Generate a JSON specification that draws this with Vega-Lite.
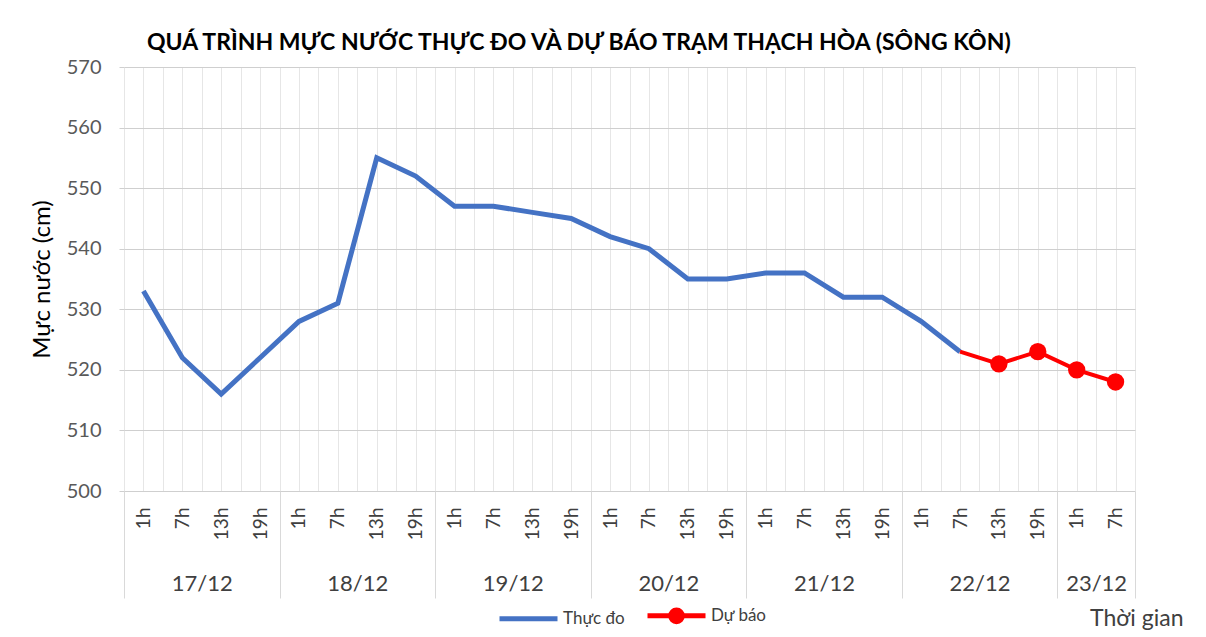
{
  "$schema": "https://vega.github.io/schema/vega-lite/v6.json",
  "width": 1011,
  "height": 424,
  "autosize": {"type": "none"},
  "padding": {"left": 124, "top": 67, "right": 71, "bottom": 146},
  "background": "white",
  "config": {"font": "Lato", "view": {"stroke": null}},
  "title": {
    "text": "QUÁ TRÌNH MỰC NƯỚC THỰC ĐO VÀ DỰ BÁO TRẠM THẠCH HÒA (SÔNG KÔN)",
    "font": "Lato",
    "fontSize": 23,
    "fontWeight": "bold",
    "color": "#000000",
    "anchor": "start",
    "frame": "group",
    "dx": 23,
    "dy": 33,
    "baseline": "alphabetic",
    "offset": 17
  },
  "data": {
    "values": [
      {"i": 0, "date": "17/12", "hour": "1h", "level": 533, "series": "Thực đo"},
      {"i": 1, "date": "17/12", "hour": "7h", "level": 522, "series": "Thực đo"},
      {"i": 2, "date": "17/12", "hour": "13h", "level": 516, "series": "Thực đo"},
      {"i": 3, "date": "17/12", "hour": "19h", "level": 522, "series": "Thực đo"},
      {"i": 4, "date": "18/12", "hour": "1h", "level": 528, "series": "Thực đo"},
      {"i": 5, "date": "18/12", "hour": "7h", "level": 531, "series": "Thực đo"},
      {"i": 6, "date": "18/12", "hour": "13h", "level": 555, "series": "Thực đo"},
      {"i": 7, "date": "18/12", "hour": "19h", "level": 552, "series": "Thực đo"},
      {"i": 8, "date": "19/12", "hour": "1h", "level": 547, "series": "Thực đo"},
      {"i": 9, "date": "19/12", "hour": "7h", "level": 547, "series": "Thực đo"},
      {"i": 10, "date": "19/12", "hour": "13h", "level": 546, "series": "Thực đo"},
      {"i": 11, "date": "19/12", "hour": "19h", "level": 545, "series": "Thực đo"},
      {"i": 12, "date": "20/12", "hour": "1h", "level": 542, "series": "Thực đo"},
      {"i": 13, "date": "20/12", "hour": "7h", "level": 540, "series": "Thực đo"},
      {"i": 14, "date": "20/12", "hour": "13h", "level": 535, "series": "Thực đo"},
      {"i": 15, "date": "20/12", "hour": "19h", "level": 535, "series": "Thực đo"},
      {"i": 16, "date": "21/12", "hour": "1h", "level": 536, "series": "Thực đo"},
      {"i": 17, "date": "21/12", "hour": "7h", "level": 536, "series": "Thực đo"},
      {"i": 18, "date": "21/12", "hour": "13h", "level": 532, "series": "Thực đo"},
      {"i": 19, "date": "21/12", "hour": "19h", "level": 532, "series": "Thực đo"},
      {"i": 20, "date": "22/12", "hour": "1h", "level": 528, "series": "Thực đo"},
      {"i": 21, "date": "22/12", "hour": "7h", "level": 523, "series": "Thực đo"},
      {"i": 21, "date": "22/12", "hour": "7h", "level": 523, "series": "Dự báo"},
      {"i": 22, "date": "22/12", "hour": "13h", "level": 521, "series": "Dự báo"},
      {"i": 23, "date": "22/12", "hour": "19h", "level": 523, "series": "Dự báo"},
      {"i": 24, "date": "23/12", "hour": "1h", "level": 520, "series": "Dự báo"},
      {"i": 25, "date": "23/12", "hour": "7h", "level": 518, "series": "Dự báo"}
    ]
  },
  "encoding": {
    "y": {
      "field": "level",
      "type": "quantitative",
      "title": "Mực nước (cm)",
      "scale": {"domain": [500, 570], "nice": false, "zero": false},
      "axis": {
        "values": [500, 510, 520, 530, 540, 550, 560, 570],
        "domain": false,
        "grid": true,
        "gridColor": "#cfcfcf",
        "ticks": true,
        "tickSize": 5,
        "tickColor": "#cfcfcf",
        "labelFontSize": 20,
        "labelColor": "#595959",
        "labelPadding": 18,
        "titleFontSize": 24,
        "titleFontWeight": "normal",
        "titleColor": "#000000",
        "titlePadding": 12
      }
    },
    "color": {
      "field": "series",
      "type": "nominal",
      "scale": {"domain": ["Thực đo", "Dự báo"], "range": ["#4472C4", "#FF0000"]},
      "legend": {
        "title": null,
        "orient": "none",
        "legendX": 373,
        "legendY": 517,
        "direction": "horizontal",
        "symbolType": "stroke",
        "symbolSize": 3364,
        "symbolStrokeWidth": 5,
        "labelFontSize": 17,
        "labelColor": "#404040",
        "labelOffset": 3,
        "columnPadding": 12,
        "encode": {
          "symbols": {
            "update": {
              "shape": {"signal": "datum.label === 'Dự báo' ? 'M-1,0H1M-0.2,0A0.2,0.2,0,1,0,0.2,0A0.2,0.2,0,1,0,-0.2,0Z' : 'stroke'"},
              "fill": {"signal": "datum.label === 'Dự báo' ? '#FF0000' : 'transparent'"}
            }
          }
        }
      }
    }
  },
  "layer": [
    {
      "transform": [{"filter": "datum.series === 'Thực đo'"}],
      "mark": {"type": "line", "strokeWidth": 5},
      "encoding": {
        "x": {
          "field": "i",
          "type": "quantitative",
          "scale": {"domain": [-0.5, 25.5], "nice": false, "zero": false},
          "axis": {
            "orient": "bottom",
            "title": null,
            "values": [-0.5, 0, 0.5, 1, 1.5, 2, 2.5, 3, 3.5, 4, 4.5, 5, 5.5, 6, 6.5, 7, 7.5, 8, 8.5, 9, 9.5, 10, 10.5, 11, 11.5, 12, 12.5, 13, 13.5, 14, 14.5, 15, 15.5, 16, 16.5, 17, 17.5, 18, 18.5, 19, 19.5, 20, 20.5, 21, 21.5, 22, 22.5, 23, 23.5, 24, 24.5, 25, 25.5],
            "grid": true,
            "gridColor": "#e6e6e6",
            "ticks": false,
            "domain": false,
            "labelExpr": "datum.value % 1 === 0 ? ['1h','7h','13h','19h'][datum.value % 4] : ''",
            "labelAngle": -90,
            "labelAlign": "right",
            "labelBaseline": "middle",
            "labelFontSize": 19,
            "labelColor": "#404040",
            "labelPadding": 16,
            "labelOverlap": false,
            "labelFlush": false
          }
        }
      }
    },
    {
      "transform": [{"filter": "datum.series === 'Dự báo'"}],
      "mark": {"type": "line", "strokeWidth": 4},
      "encoding": {
        "x": {
          "field": "i",
          "type": "quantitative",
          "scale": {"domain": [-0.5, 25.5], "nice": false, "zero": false},
          "axis": {
            "orient": "bottom",
            "values": [1.5, 5.5, 9.5, 13.5, 17.5, 21.5, 24.5],
            "grid": false,
            "ticks": false,
            "domain": false,
            "labelExpr": "['17/12','18/12','19/12','20/12','21/12','22/12','23/12'][floor(datum.value / 4)]",
            "labelAngle": 0,
            "labelAlign": "center",
            "labelBaseline": "top",
            "labelFontSize": 22,
            "labelColor": "#404040",
            "labelPadding": 82,
            "labelOverlap": false,
            "labelFlush": false,
            "title": "Thời gian",
            "titleFontSize": 23,
            "titleFontWeight": "normal",
            "titleColor": "#404040",
            "titleAnchor": "end",
            "titleAlign": "right",
            "titleBaseline": "alphabetic",
            "titleX": 1059,
            "titleY": 134
          }
        }
      }
    },
    {
      "transform": [{"filter": "datum.series === 'Dự báo' && datum.i > 21"}],
      "mark": {"type": "point", "filled": true, "size": 300, "opacity": 1},
      "encoding": {
        "x": {
          "field": "i",
          "type": "quantitative",
          "scale": {"domain": [-0.5, 25.5], "nice": false, "zero": false},
          "axis": {
            "orient": "bottom",
            "title": null,
            "values": [-0.5, 3.5, 7.5, 11.5, 15.5, 19.5, 23.5, 25.5],
            "grid": false,
            "labels": false,
            "domain": false,
            "ticks": true,
            "tickSize": 107,
            "tickColor": "#d9d9d9",
            "tickWidth": 1
          }
        }
      }
    }
  ],
  "resolve": {"axis": {"x": "independent"}, "scale": {"x": "independent"}}
}
